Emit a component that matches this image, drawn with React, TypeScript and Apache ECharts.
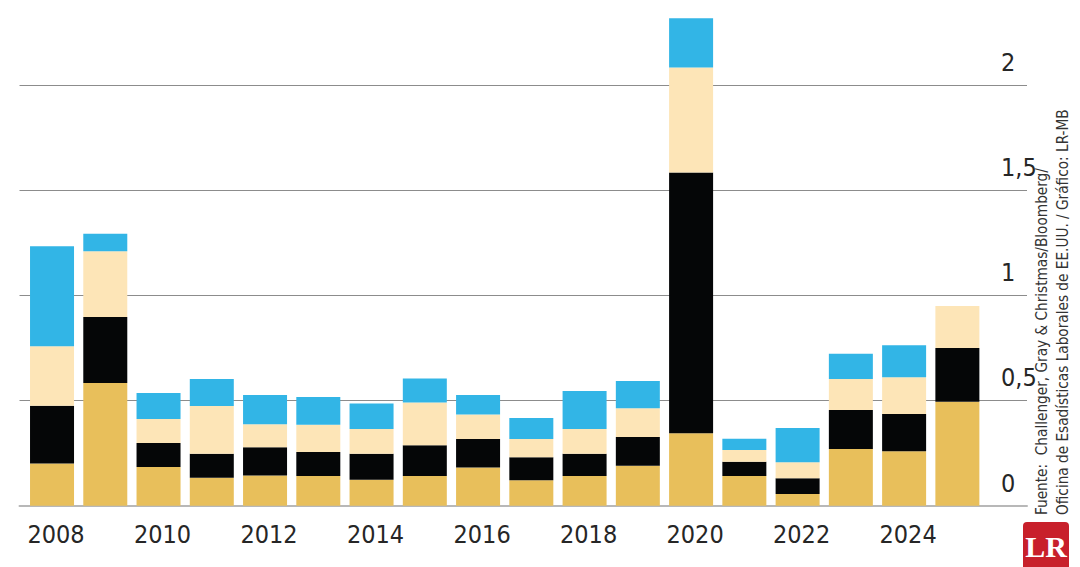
import React, { useEffect, useRef } from "react";
import * as echarts from "echarts";

const years = ["2008","2009","2010","2011","2012","2013","2014","2015","2016","2017","2018","2019","2020","2021","2022","2023","2024","2025"];
const gold = [0.2, 0.583, 0.184, 0.133, 0.144, 0.141, 0.123, 0.141, 0.181, 0.121, 0.141, 0.19, 0.344, 0.141, 0.056, 0.27, 0.259, 0.494];
const black = [0.275, 0.314, 0.114, 0.114, 0.134, 0.114, 0.124, 0.146, 0.136, 0.109, 0.106, 0.136, 1.239, 0.068, 0.074, 0.185, 0.177, 0.256];
const light = [0.283, 0.312, 0.114, 0.227, 0.109, 0.13, 0.117, 0.204, 0.117, 0.087, 0.117, 0.137, 0.499, 0.056, 0.076, 0.147, 0.174, 0.199];
const blue = [0.475, 0.084, 0.124, 0.128, 0.139, 0.132, 0.122, 0.113, 0.092, 0.1, 0.181, 0.13, 0.235, 0.053, 0.163, 0.12, 0.152, 0];
const yTicks = [0, 0.5, 1, 1.5, 2];
const sourceLine1 = "Fuente:  Challenger, Gray & Christmas/Bloomberg/";
const sourceLine2 = "Oficina de Esadísticas Laborales de EE.UU. / Gráfico: LR-MB";

const FONT = "'Liberation Sans Narrow', 'DejaVu Sans Condensed', 'Noto Sans', sans-serif";

export default function App() {
  const ref = useRef<HTMLDivElement>(null);
  useEffect(() => {
    if (!ref.current) return;
    const chart = echarts.init(ref.current, undefined, { renderer: "svg" });
    const mk = (name: string, data: number[], color: string) => ({
      name,
      type: "bar",
      stack: "total",
      xAxisIndex: 0,
      yAxisIndex: 0,
      barWidth: 44,
      data: data.map((v) => (v > 0 ? v : null)),
      itemStyle: { color },
      z: 3,
    });
    chart.setOption({
      animation: false,
      backgroundColor: "#ffffff",
      grid: [
        { left: 25.4, right: 96, top: 0.7, bottom: 61.3 },
        { left: 19.5, right: 53, top: 0.7, bottom: 61.3 },
      ],
      xAxis: [
        {
          type: "category",
          gridIndex: 0,
          data: years,
          axisLine: { show: false },
          axisTick: { show: false },
          axisLabel: {
            interval: 1,
            fontSize: 25,
            fontFamily: FONT,
            color: "#262626",
            margin: 16,
            padding: [0, 0, 0, 8],
          },
        },
        {
          type: "value",
          gridIndex: 1,
          min: 0,
          max: 1,
          axisLine: { show: true, lineStyle: { color: "#b8b8b8", width: 2 } },
          axisTick: { show: false },
          axisLabel: { show: false },
          splitLine: { show: false },
        },
      ],
      yAxis: [
        {
          type: "value",
          gridIndex: 0,
          min: 0,
          max: 2.4,
          show: false,
          splitLine: { show: false },
        },
        {
          type: "value",
          gridIndex: 1,
          position: "right",
          min: 0,
          max: 2.4,
          interval: 0.5,
          axisLine: { show: false },
          axisTick: { show: false },
          splitLine: {
            show: true,
            showMinLine: false,
            showMaxLine: false,
            lineStyle: { color: "#8c8c8c", width: 1 },
          },
          axisLabel: {
            inside: true,
            align: "left",
            verticalAlign: "bottom",
            margin: 26,
            padding: [0, 0, 10, 0],
            fontSize: 25,
            fontFamily: FONT,
            color: "#262626",
            showMaxLabel: false,
            formatter: (v: number) => {
              const t = yTicks.find((x) => Math.abs(x - v) < 1e-6);
              return t === undefined ? "" : String(t).replace(".", ",");
            },
          },
        },
      ],
      series: [
        mk("gold", gold, "#E8BF5B"),
        mk("black", black, "#050607"),
        mk("light", light, "#FDE5B7"),
        mk("blue", blue, "#32B5E6"),
      ],
      graphic: [
        {
          type: "text",
          x: 1042,
          y: 515,
          rotation: Math.PI / 2,
          scaleX: 0.95,
          style: {
            text: sourceLine1,
            fontSize: 16,
            fontFamily: FONT,
            fill: "#333",
            align: "left",
            verticalAlign: "middle",
          },
        },
        {
          type: "text",
          x: 1063,
          y: 515,
          rotation: Math.PI / 2,
          scaleX: 0.95,
          style: {
            text: sourceLine2,
            fontSize: 16,
            fontFamily: FONT,
            fill: "#333",
            align: "left",
            verticalAlign: "middle",
          },
        },
        {
          type: "rect",
          shape: { x: 1023, y: 522, width: 46, height: 50, r: [4, 4, 0, 0] },
          style: { fill: "#C8202B" },
        },
        {
          type: "text",
          x: 1046,
          y: 546,
          style: {
            text: "LR",
            fontSize: 30,
            fontWeight: "bold",
            fontFamily: "'Liberation Serif', 'DejaVu Serif', serif",
            fill: "#ffffff",
            align: "center",
            verticalAlign: "middle",
          },
        },
      ],
    });
    return () => chart.dispose();
  }, []);
  return (
    <div
      ref={ref}
      style={{ position: "fixed", left: 0, top: 0, width: 1080, height: 567 }}
    />
  );
}
